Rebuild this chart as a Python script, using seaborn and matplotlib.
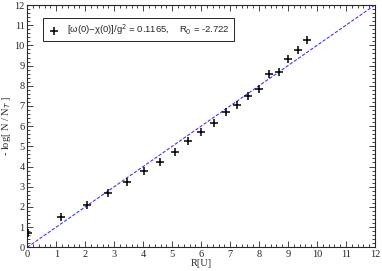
import numpy as np
import pandas as pd
import matplotlib
matplotlib.use("Agg")
import matplotlib.pyplot as plt
import seaborn as sns
from matplotlib.ticker import MultipleLocator

# data
r_u = [0.03, 1.16, 2.05, 2.77, 3.45, 4.03, 4.58, 5.10, 5.56, 6.00,
       6.44, 6.86, 7.24, 7.63, 7.99, 8.33, 8.68, 9.01, 9.33, 9.65]
neg_log = [0.69, 1.49, 2.11, 2.69, 3.22, 3.78, 4.24, 4.72, 5.26, 5.71,
           6.14, 6.69, 7.03, 7.48, 7.83, 8.57, 8.68, 9.31, 9.76, 10.27]
fit_slope = 1.0
fit_intercept = 0.0
fit_range = [0, 12]

df = pd.DataFrame({"R": r_u, "y": neg_log})
fit_x = np.array(fit_range, dtype=float)
fit_df = pd.DataFrame({"R": fit_x, "y": fit_slope * fit_x + fit_intercept})

sns.set_style("ticks")
plt.rcParams['font.family'] = ['Liberation Serif', 'DejaVu Serif']

fig = plt.figure(figsize=(3.82, 2.71), dpi=100)
ax = fig.add_axes([0.0715, 0.0875, 0.91, 0.894])

sns.lineplot(data=fit_df, x="R", y="y", ax=ax, color="#3a3aff",
             linestyle=(0, (3, 1.5)), linewidth=0.8)
sns.scatterplot(data=df, x="R", y="y", ax=ax, marker="+", color="black",
                s=28, linewidth=1.1, zorder=5,
                label="[ω(0)−χ(0)]/g$^2$ = 0.1165,    R$_0$ = -2.722")

ax.set_xlim(0, 12)
ax.set_ylim(0, 12)
ax.xaxis.set_major_locator(MultipleLocator(1))
ax.yaxis.set_major_locator(MultipleLocator(1))
ax.xaxis.set_minor_locator(MultipleLocator(0.2))
ax.yaxis.set_minor_locator(MultipleLocator(0.2))
ax.tick_params(which="both", direction="in", top=True, right=True,
               labelsize=7.5, width=0.6, pad=2)
ax.tick_params(which="major", length=4)
ax.tick_params(which="minor", length=2)
for s in ax.spines.values():
    s.set_linewidth(0.8)

ax.set_xlabel("R[U]", fontsize=7.5, labelpad=0)
ax.set_ylabel("- log[ N / N$_T$ ]", fontsize=7.5, labelpad=1)

leg = ax.legend(loc="upper left", bbox_to_anchor=(0.045, 0.945), frameon=True,
                fancybox=False, edgecolor="black", framealpha=1,
                prop={"family": "Liberation Sans", "size": 6.8},
                handletextpad=0.6, borderpad=0.45, handlelength=1.5,
                borderaxespad=0)
leg.get_frame().set_linewidth(0.6)

fig.savefig("out.png", dpi=100)
